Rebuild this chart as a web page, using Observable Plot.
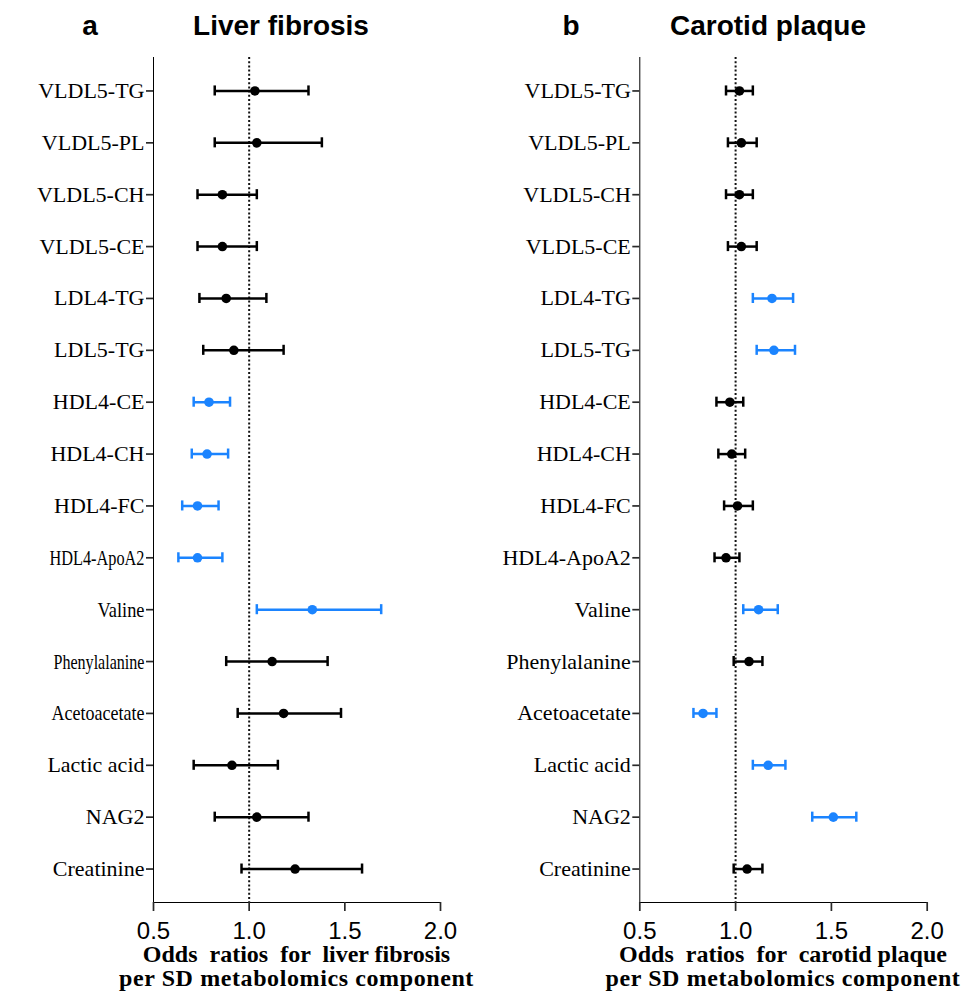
<!DOCTYPE html>
<html>
<head>
<meta charset="utf-8">
<script src="https://cdn.jsdelivr.net/npm/d3@7"></script>
<script src="https://cdn.jsdelivr.net/npm/@observablehq/plot@0.6"></script>
<style>
  html, body { margin: 0; padding: 0; background: #fff; }
  #root { position: relative; width: 979px; height: 998px; overflow: hidden; background: #fff; }
  #root > svg, #root > figure { position: absolute; margin: 0; }
</style>
</head>
<body>
<div id="root"></div>
<script>
// ---------- data ----------
const categories = ["VLDL5-TG","VLDL5-PL","VLDL5-CH","VLDL5-CE","LDL4-TG","LDL5-TG",
  "HDL4-CE","HDL4-CH","HDL4-FC","HDL4-ApoA2","Valine","Phenylalanine",
  "Acetoacetate","Lactic acid","NAG2","Creatinine"];

// Panel a: liver fibrosis
const liverOR  = [1.03,1.04,0.86,0.86,0.88,0.92,0.79,0.78,0.73,0.73,1.33,1.12,1.18,0.91,1.04,1.24];
const liverLo  = [0.82,0.82,0.73,0.73,0.74,0.76,0.71,0.70,0.65,0.63,1.04,0.88,0.94,0.71,0.82,0.96];
const liverHi  = [1.31,1.38,1.04,1.04,1.09,1.18,0.90,0.89,0.84,0.86,1.69,1.41,1.48,1.15,1.31,1.59];
const liverSig = [0,0,0,0,0,0,1,1,1,1,1,0,0,0,0,0];

// Panel b: carotid plaque
const plaqueOR  = [1.02,1.03,1.02,1.03,1.19,1.20,0.97,0.98,1.01,0.95,1.12,1.07,0.83,1.17,1.51,1.06];
const plaqueLo  = [0.95,0.96,0.95,0.96,1.09,1.11,0.90,0.91,0.94,0.89,1.04,0.99,0.78,1.09,1.40,0.99];
const plaqueHi  = [1.09,1.11,1.09,1.11,1.30,1.31,1.04,1.05,1.09,1.02,1.22,1.14,0.90,1.26,1.63,1.14];
const plaqueSig = [0,0,0,0,1,1,0,0,0,0,1,0,1,1,1,0];

const xTicks = [0.5, 1.0, 1.5, 2.0];
const titles = [
  {letter: "a", title: "Liver fibrosis", xlab: ["Odds  ratios  for  liver fibrosis", "per SD metabolomics component"]},
  {letter: "b", title: "Carotid plaque", xlab: ["Odds  ratios  for  carotid plaque", "per SD metabolomics component"]}
];

const BLUE = "#1b84ff";
const BLACK = "#000";

// left panel in the reference draws a few long labels horizontally condensed (layout only)
const leftCondensed = {"Phenylalanine": 91, "Acetoacetate": 93, "HDL4-ApoA2": 95, "Valine": 47};

function panel(or, lo, hi, sig, marginLeft, marginRight, condensed) {
  const rows = categories.map((name, i) => ({name, or: or[i], lo: lo[i], hi: hi[i], sig: !!sig[i]}));
  const col = d => d.sig ? BLUE : BLACK;
  const capInset = 20.9;
  const svg = Plot.plot({
    width: 489,
    height: 998,
    marginTop: 57,
    marginBottom: 96,
    marginLeft,
    marginRight,
    style: {fontFamily: "'Liberation Serif', 'Times New Roman', serif", fontSize: "22px", background: "transparent", overflow: "visible"},
    x: {domain: [0.5, 2.0], ticks: xTicks, tickFormat: d3.format(".1f"), tickSize: 9, tickPadding: 10, line: true, label: null},
    y: {type: "band", domain: categories, paddingInner: 0, paddingOuter: 0.145, round: false, tickSize: 7, tickPadding: 2, line: true, label: null},
    marks: [
      Plot.ruleX([1], {stroke: "#111", strokeWidth: 2, strokeDasharray: "2,2.2"}),
      Plot.ruleY(rows, {y: "name", x1: "lo", x2: "hi", stroke: col, strokeWidth: 2.5}),
      Plot.tickX(rows, {x: "lo", y: "name", stroke: col, strokeWidth: 2.5, insetTop: capInset, insetBottom: capInset}),
      Plot.tickX(rows, {x: "hi", y: "name", stroke: col, strokeWidth: 2.5, insetTop: capInset, insetBottom: capInset}),
      Plot.dot(rows, {x: "or", y: "name", r: 4.8, fill: col, stroke: "none"})
    ]
  });
  // axis styling
  svg.querySelectorAll('[aria-label^="y-axis"] text').forEach(t => {
    t.style.fontFamily = "'Liberation Serif', 'Times New Roman', serif";
    t.style.fontSize = "22px";
    t.style.fill = "#000";
    const w = condensed && condensed[t.textContent];
    if (w) {
      t.setAttribute("textLength", w);
      t.setAttribute("lengthAdjust", "spacingAndGlyphs");
    }
  });
  svg.querySelectorAll('[aria-label^="x-axis"] text').forEach(t => {
    t.style.fontFamily = "'Liberation Sans', Arial, sans-serif";
    t.style.fontSize = "24px";
    t.style.fill = "#000";
  });
  svg.querySelectorAll('[aria-label^="x-axis"] line, [aria-label^="x-axis"] path, [aria-label^="y-axis"] line, [aria-label^="y-axis"] path').forEach(l => {
    l.style.stroke = "#2a2a2a";
    l.style.strokeWidth = "1.7px";
  });
  return svg;
}

const root = document.getElementById("root");
const left = panel(liverOR, liverLo, liverHi, liverSig, 153, 49, leftCondensed);
left.style.left = "0px"; left.style.top = "0px";
root.appendChild(left);
const right = panel(plaqueOR, plaqueLo, plaqueHi, plaqueSig, 149.3, 52.3, null);
right.style.left = "490px"; right.style.top = "0px";
root.appendChild(right);

// overlay texts: panel letters, titles, x-axis titles
const ov = d3.select(root).append("svg")
  .attr("width", 979).attr("height", 998)
  .style("left", "0px").style("top", "0px").style("pointer-events", "none");
const letterX = [90, 571];
const titleX = [281, 768];
const xlabX = [296.5, 783];
const xlabSpacing = [0, 0.6];
titles.forEach((t, i) => {
  ov.append("text").attr("x", letterX[i]).attr("y", 35).attr("text-anchor", "middle")
    .style("font-family", "'Liberation Sans', Arial, sans-serif").style("font-weight", "bold").style("font-size", "28px")
    .text(t.letter);
  ov.append("text").attr("x", titleX[i]).attr("y", 35).attr("text-anchor", "middle")
    .style("font-family", "'Liberation Sans', Arial, sans-serif").style("font-weight", "bold").style("font-size", "28px")
    .text(t.title);
  t.xlab.forEach((line, j) => {
    ov.append("text").attr("x", xlabX[i]).attr("y", 962 + j * 24).attr("text-anchor", "middle")
      .style("font-family", "'Liberation Serif', 'Times New Roman', serif").style("font-weight", "bold").style("font-size", "24px")
      .style("letter-spacing", xlabSpacing[j] + "px")
      .style("white-space", "pre")
      .text(line);
  });
});
</script>
</body>
</html>
